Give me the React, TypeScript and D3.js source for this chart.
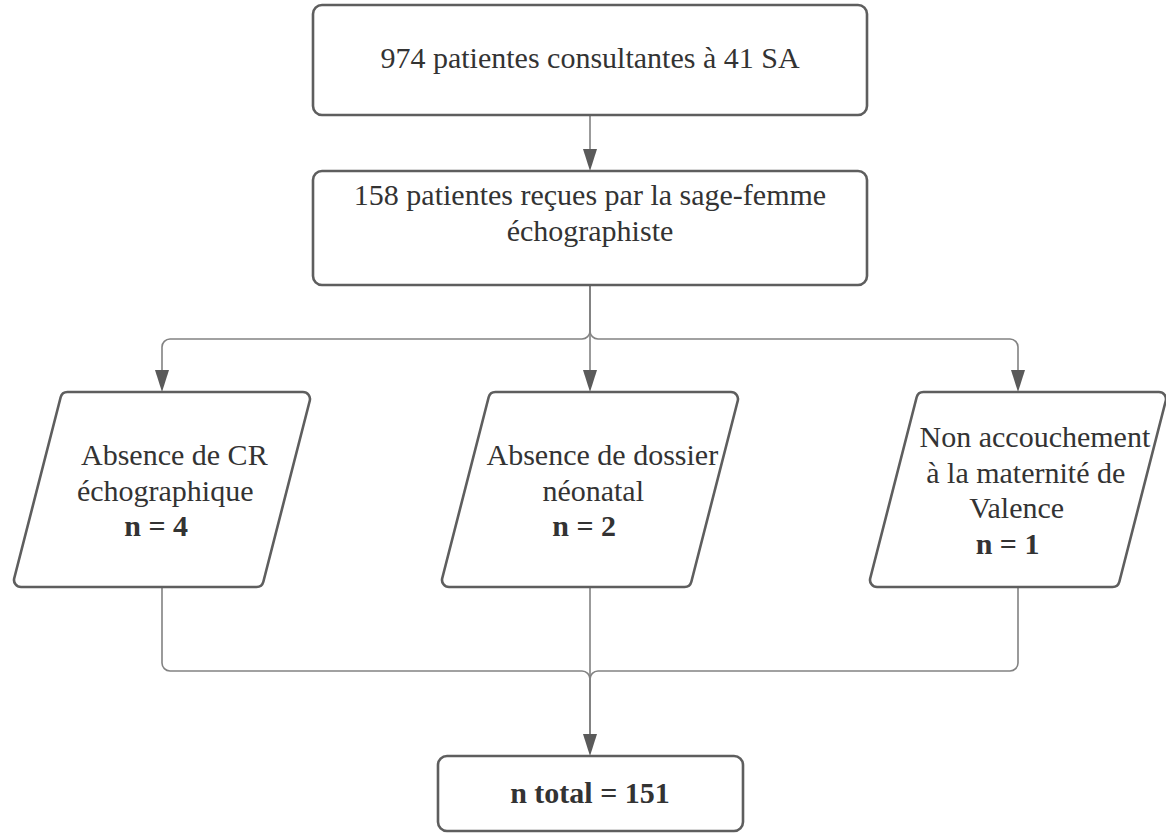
import { useEffect, useRef } from "react";
import * as d3 from "d3";

// Flow steps
const startLines = ["974 patientes consultantes à 41 SA"];
const seenLines = ["158 patientes reçues par la sage-femme", "échographiste"];
const exclusionLabels = [
  ["Absence de CR", "échographique"],
  ["Absence de dossier", "néonatal"],
  ["Non accouchement", "à la maternité de", "Valence"],
];
const exclusionCounts = [4, 2, 1];
const totalCount = 151;

export default function App() {
  const svgRef = useRef<SVGSVGElement>(null);

  useEffect(() => {
    if (!svgRef.current) return;
    const svg = d3.select(svgRef.current);
    const width = 1166;
    const height = 834;
    svg.selectAll("*").remove();
    svg.attr("width", width).attr("height", height);

    const cx = 590;
    const font = "'Liberation Serif', 'Times New Roman', serif";
    const fontSize = 30;
    const lineH = 35.5;
    const boxStroke = "#5e5e5e";
    const lineStroke = "#828282";
    const textColor = "#333333";
    const arrowH = 22;
    const arrowW = 7;
    const r = 8;

    // Columns for the exclusion boxes
    const xCol = d3
      .scalePoint<number>()
      .domain(d3.range(exclusionLabels.length))
      .range([162, 1018]);

    const box1 = { x0: 313, x1: 867, y0: 5, y1: 115 };
    const box2 = { x0: 313, x1: 867, y0: 171, y1: 285 };
    const boxEnd = { x0: 438, x1: 743, y0: 756, y1: 831 };
    const para = { y0: 392, y1: 587, w: 250, skew: 50 };
    const splitY = 339;
    const joinY = 671;

    const links = svg.append("g");
    const shapes = svg.append("g");
    const labels = svg.append("g");

    const arrow = (x: number, tip: number) => {
      links
        .append("path")
        .attr(
          "d",
          `M${x - arrowW},${tip - arrowH}L${x + arrowW},${tip - arrowH}L${x},${tip}Z`
        )
        .attr("fill", "#5a5a5a");
    };

    const link = (p: d3.Path) => {
      links
        .append("path")
        .attr("d", p.toString())
        .attr("fill", "none")
        .attr("stroke", lineStroke)
        .attr("stroke-width", 1.6);
    };

    // Rectangles
    [box1, box2, boxEnd].forEach((b) => {
      shapes
        .append("rect")
        .attr("x", b.x0)
        .attr("y", b.y0)
        .attr("width", b.x1 - b.x0)
        .attr("height", b.y1 - b.y0)
        .attr("rx", 9)
        .attr("fill", "#ffffff")
        .attr("stroke", boxStroke)
        .attr("stroke-width", 2.6);
    });

    // Parallelograms with rounded corners
    exclusionLabels.forEach((_, i) => {
      const x = xCol(i)!;
      const pts: [number, number][] = [
        [x - para.w / 2 + para.skew / 2, para.y0],
        [x + para.w / 2 + para.skew / 2, para.y0],
        [x + para.w / 2 - para.skew / 2, para.y1],
        [x - para.w / 2 - para.skew / 2, para.y1],
      ];
      const p = d3.path();
      const mid = (a: [number, number], b: [number, number]) => [
        (a[0] + b[0]) / 2,
        (a[1] + b[1]) / 2,
      ];
      const m0 = mid(pts[0], pts[1]);
      p.moveTo(m0[0], m0[1]);
      for (let k = 1; k <= 4; k++) {
        const a = pts[k % 4];
        const b = pts[(k + 1) % 4];
        p.arcTo(a[0], a[1], b[0], b[1], 7);
      }
      p.closePath();
      shapes
        .append("path")
        .attr("d", p.toString())
        .attr("fill", "#ffffff")
        .attr("stroke", boxStroke)
        .attr("stroke-width", 2.6);
    });

    // Top -> second box
    const p1 = d3.path();
    p1.moveTo(cx, box1.y1);
    p1.lineTo(cx, box2.y0 - arrowH);
    link(p1);
    arrow(cx, box2.y0);

    // Split to the exclusion boxes
    exclusionLabels.forEach((_, i) => {
      const x = xCol(i)!;
      const p = d3.path();
      p.moveTo(cx, box2.y1);
      if (Math.abs(x - cx) < 1) {
        p.lineTo(cx, para.y0 - arrowH);
      } else {
        p.arcTo(cx, splitY, x, splitY, r);
        p.arcTo(x, splitY, x, para.y0, r);
        p.lineTo(x, para.y0 - arrowH);
      }
      link(p);
      arrow(x, para.y0);
    });

    // Join to the total
    exclusionLabels.forEach((_, i) => {
      const x = xCol(i)!;
      const p = d3.path();
      p.moveTo(x, para.y1);
      if (Math.abs(x - cx) < 1) {
        p.lineTo(cx, boxEnd.y0 - arrowH);
      } else {
        p.arcTo(x, joinY, cx, joinY, r);
        p.arcTo(cx, joinY, cx, boxEnd.y0, r);
        p.lineTo(cx, boxEnd.y0 - arrowH);
      }
      link(p);
    });
    arrow(cx, boxEnd.y0);

    const addText = (
      x: number,
      y: number,
      txt: string,
      bold = false
    ) => {
      labels
        .append("text")
        .attr("x", x)
        .attr("y", y)
        .attr("text-anchor", "middle")
        .attr("font-family", font)
        .attr("font-size", fontSize)
        .attr("font-weight", bold ? "bold" : "normal")
        .attr("fill", textColor)
        .text(txt);
    };

    startLines.forEach((t, i) => addText(cx, 68 + i * lineH, t));
    seenLines.forEach((t, i) => addText(cx, 205 + i * lineH, t));

    // Exclusion texts follow the slant of the box
    const cy = (para.y0 + para.y1) / 2;
    exclusionLabels.forEach((lines, i) => {
      const x = xCol(i)!;
      const all = [...lines, `n = ${exclusionCounts[i]}`];
      all.forEach((t, k) => {
        const y = cy + (k - (all.length - 1) / 2) * lineH + 11;
        const dx = (-(y - 8 - cy) * para.skew) / (para.y1 - para.y0) + 4;
        addText(x + dx, y, t, k === all.length - 1);
      });
    });

    addText(cx, 803, `n total = ${totalCount}`, true);
  }, []);

  return (
    <div style={{ position: "absolute", left: 0, top: 0, background: "#fff" }}>
      <svg ref={svgRef}></svg>
    </div>
  );
}
